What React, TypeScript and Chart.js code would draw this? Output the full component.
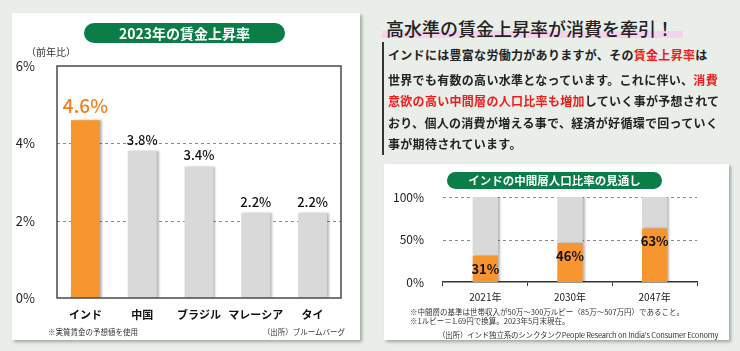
import React, { useEffect, useRef } from "react";
import { Chart, registerables } from "chart.js";
Chart.register(...registerables);

// ---- data ----
const wageCountries = ["インド", "中国", "ブラジル", "マレーシア", "タイ"];
const wageRates = [4.6, 3.8, 3.4, 2.2, 2.2];
const wageTicks = [0, 2, 4, 6];
const wageGrid = [2, 4];

const midYears = ["2021年", "2030年", "2047年"];
const midShare = [31, 46, 63];
const restShare = [69, 54, 37];
const midTicks = [0, 50, 100];
const midGrid = [50, 100];

const FONT = "'Noto Sans CJK JP', 'Noto Sans', sans-serif";
const ORANGE = "#f7962f";
const GRAY = "#d9d9d9";
const GREEN = "#0b7d47";
const RED = "#f01c1c";

function dashed(chart: any, values: number[]) {
  const { ctx, chartArea } = chart;
  const y = chart.scales.y;
  ctx.save();
  ctx.strokeStyle = "#8a8a8a";
  ctx.lineWidth = 1;
  ctx.setLineDash([3, 3]);
  values.forEach((v) => {
    const py = Math.round(y.getPixelForValue(v)) + 0.5;
    ctx.beginPath();
    ctx.moveTo(chartArea.left, py);
    ctx.lineTo(chartArea.right, py);
    ctx.stroke();
  });
  ctx.restore();
}

function shadowOn(ctx: CanvasRenderingContext2D) {
  ctx.save();
  ctx.shadowColor = "rgba(0,0,0,0.28)";
  ctx.shadowOffsetX = 2;
  ctx.shadowOffsetY = 0;
  ctx.shadowBlur = 2;
}

function WageChart() {
  const ref = useRef<HTMLCanvasElement>(null);
  useEffect(() => {
    const plugin = {
      id: "wageDeco",
      beforeDatasetsDraw(chart: any) {
        dashed(chart, wageGrid);
        shadowOn(chart.ctx);
      },
      afterDatasetsDraw(chart: any) {
        const { ctx, chartArea } = chart;
        ctx.restore();
        ctx.save();
        ctx.strokeStyle = "#4a4a4a";
        ctx.lineWidth = 1.5;
        ctx.strokeRect(chartArea.left, chartArea.top, chartArea.right - chartArea.left, chartArea.bottom - chartArea.top);
        const meta = chart.getDatasetMeta(0);
        ctx.textAlign = "center";
        ctx.textBaseline = "middle";
        meta.data.forEach((bar: any, i: number) => {
          const v = wageRates[i];
          if (i === 0) {
            ctx.fillStyle = "#f07f1c";
            ctx.font = `500 19px ${FONT}`;
            ctx.fillText(v.toFixed(1) + "%", bar.x, bar.y - 14);
          } else {
            ctx.fillStyle = "#111";
            ctx.font = `500 13px ${FONT}`;
            ctx.fillText(v.toFixed(1) + "%", bar.x, bar.y - 11);
          }
        });
        // category labels along the x scale
        const xs = chart.scales.x;
        ctx.fillStyle = "#111";
        ctx.font = `bold 11px ${FONT}`;
        xs.ticks.forEach((_t: any, i: number) => {
          ctx.fillText(String(xs.getLabelForValue(i)), xs.getPixelForTick(i), chartArea.bottom + 17);
        });
        ctx.restore();
      },
    };
    const chart = new Chart(ref.current!, {
      type: "bar",
      data: {
        labels: wageCountries,
        datasets: [
          {
            data: wageRates,
            backgroundColor: wageRates.map((_, i) => (i === 0 ? ORANGE : GRAY)),
            borderWidth: 0,
            barPercentage: 0.51,
            categoryPercentage: 1,
          },
        ],
      },
      options: {
        responsive: false,
        animation: false,
        events: [],
        layout: { padding: { left: 0, right: 19, top: 53, bottom: 12 } },
        plugins: { legend: { display: false }, tooltip: { enabled: false } },
        scales: {
          x: {
            grid: { display: false },
            border: { display: false },
            ticks: { display: false, autoSkip: false, maxRotation: 0, minRotation: 0 },
            afterFit: (s: any) => { s.height = 30; },
          },
          y: {
            min: 0,
            max: 6,
            grid: { display: false },
            border: { display: false },
            afterBuildTicks: (s: any) => { s.ticks = wageTicks.map((v) => ({ value: v })); },
            ticks: { color: "#222", padding: 14, font: { family: FONT, size: 13 }, callback: (v: any) => v + "%" },
            afterFit: (s: any) => { s.width = 45; },
          },
        },
      },
      plugins: [plugin],
    } as any);
    return () => chart.destroy();
  }, []);
  return <canvas ref={ref} width={348} height={327} style={{ position: "absolute", left: 12, top: 13, width: 348, height: 327 }} />;
}

function MidChart() {
  const ref = useRef<HTMLCanvasElement>(null);
  useEffect(() => {
    const plugin = {
      id: "midDeco",
      beforeDatasetsDraw(chart: any) {
        dashed(chart, midGrid);
        shadowOn(chart.ctx);
      },
      afterDatasetsDraw(chart: any) {
        const { ctx } = chart;
        ctx.restore();
        ctx.save();
        const meta = chart.getDatasetMeta(0);
        ctx.textAlign = "center";
        ctx.textBaseline = "middle";
        ctx.fillStyle = "#111";
        ctx.font = `bold 13px ${FONT}`;
        meta.data.forEach((bar: any, i: number) => {
          ctx.fillText(midShare[i] + "%", bar.x, bar.y + 13);
        });
        ctx.restore();
      },
    };
    const chart = new Chart(ref.current!, {
      type: "bar",
      data: {
        labels: midYears,
        datasets: [
          { data: midShare, backgroundColor: ORANGE, borderWidth: 0, barPercentage: 0.3, categoryPercentage: 1 },
          { data: restShare, backgroundColor: GRAY, borderWidth: 0, barPercentage: 0.3, categoryPercentage: 1 },
        ],
      },
      options: {
        responsive: false,
        animation: false,
        events: [],
        layout: { padding: { left: 0, right: 32, top: 33, bottom: 34 } },
        plugins: { legend: { display: false }, tooltip: { enabled: false } },
        scales: {
          x: {
            stacked: true,
            grid: { display: true, drawOnChartArea: false, offset: true, drawTicks: true, tickLength: 4, color: "#333", tickColor: "#333" },
            border: { display: true, color: "#333", width: 1.5 },
            ticks: { color: "#222", padding: 5, maxRotation: 0, minRotation: 0, font: { family: FONT, size: 10 } },
            afterFit: (s: any) => { s.height = 24; },
          },
          y: {
            stacked: true,
            min: 0,
            max: 100,
            grid: { display: false },
            border: { display: false },
            afterBuildTicks: (s: any) => { s.ticks = midTicks.map((v) => ({ value: v })); },
            ticks: { color: "#222", padding: 11, font: { family: FONT, size: 12 }, callback: (v: any) => v + "%" },
            afterFit: (s: any) => { s.width = 59; },
          },
        },
      },
      plugins: [plugin],
    } as any);
    return () => chart.destroy();
  }, []);
  return <canvas ref={ref} width={345} height={176} style={{ position: "absolute", left: 384, top: 164, width: 345, height: 176 }} />;
}

function T(props: { x: number; y: number; size: number; children: any; weight?: any; color?: string; right?: boolean; ls?: number }) {
  const h = Math.round(props.size * 1.6);
  const style: any = {
    position: "absolute",
    top: props.y - h / 2,
    height: h,
    lineHeight: h + "px",
    fontSize: props.size,
    fontWeight: props.weight || 400,
    color: props.color || "#222",
    whiteSpace: "nowrap",
    letterSpacing: props.ls ?? 0,
  };
  if (props.right) style.right = 740 - props.x;
  else style.left = props.x;
  return <div style={style}>{props.children}</div>;
}

const R = (s: string) => <span style={{ color: RED }}>{s}</span>;

export default function App() {
  const panel: any = { position: "absolute", background: "#fff", boxShadow: "2px 2px 3px rgba(0,0,0,0.3)" };
  const pill: any = { position: "absolute", background: GREEN, color: "#fff", fontWeight: 700, textAlign: "center" };
  const bodyLines = [
    <>インドには豊富な労働力がありますが、その{R("賃金上昇率")}は</>,
    <>世界でも有数の高い水準となっています。これに伴い、{R("消費")}</>,
    <>{R("意欲の高い中間層の人口比率も増加")}していく事が予想されて</>,
    <>おり、個人の消費が増える事で、経済が好循環で回っていく</>,
    <>事が期待されています。</>,
  ];
  const lineY = [54, 79, 100, 122, 143];
  return (
    <div style={{ position: "absolute", left: 0, top: 0, width: 740, height: 351, background: "#e9eee9", overflow: "hidden", fontFamily: FONT }}>
      <div style={{ ...panel, left: 12, top: 13, width: 348, height: 327 }} />
      <div style={{ ...panel, left: 384, top: 164, width: 345, height: 176 }} />
      <WageChart />
      <MidChart />
      <div style={{ ...pill, left: 84, top: 23, width: 201, height: 20, borderRadius: 10, fontSize: 14, lineHeight: "20px" }}>2023年の賃金上昇率</div>
      <div style={{ ...pill, left: 447, top: 172, width: 215, height: 17, borderRadius: 9, fontSize: 11.5, lineHeight: "17px" }}>インドの中間層人口比率の見通し</div>
      <T x={26} y={52} size={10} color="#333">（前年比）</T>
      <T x={48} y={332} size={7.5} color="#333">※実質賃金の予想値を使用</T>
      <T x={345} y={332} size={7.5} color="#333" right>（出所）ブルームバーグ</T>
      <T x={410} y={312} size={7.5} color="#333">※中間層の基準は世帯収入が50万～300万ルピー（85万～507万円）であること。</T>
      <T x={410} y={321} size={7.5} color="#333">※1ルピー＝1.69円で換算。2023年5月末現在。</T>
      <T x={438} y={335} size={7.5} color="#333" ls={-0.2}>（出所）インド独立系のシンクタンクPeople Research on India's Consumer Economy</T>
      <div style={{ position: "absolute", left: 382, top: 31, width: 301, height: 7, background: "#f6d2ec" }} />
      <T x={386} y={28} size={18} weight={500} color="#222">高水準の賃金上昇率が消費を牽引！</T>
      <div style={{ position: "absolute", left: 382, top: 42, width: 2, height: 113, background: "#333" }} />
      {bodyLines.map((l, i) => (
        <T key={i} x={388} y={lineY[i]} size={12} weight={700} color="#222" ls={0.3}>{l}</T>
      ))}
    </div>
  );
}
